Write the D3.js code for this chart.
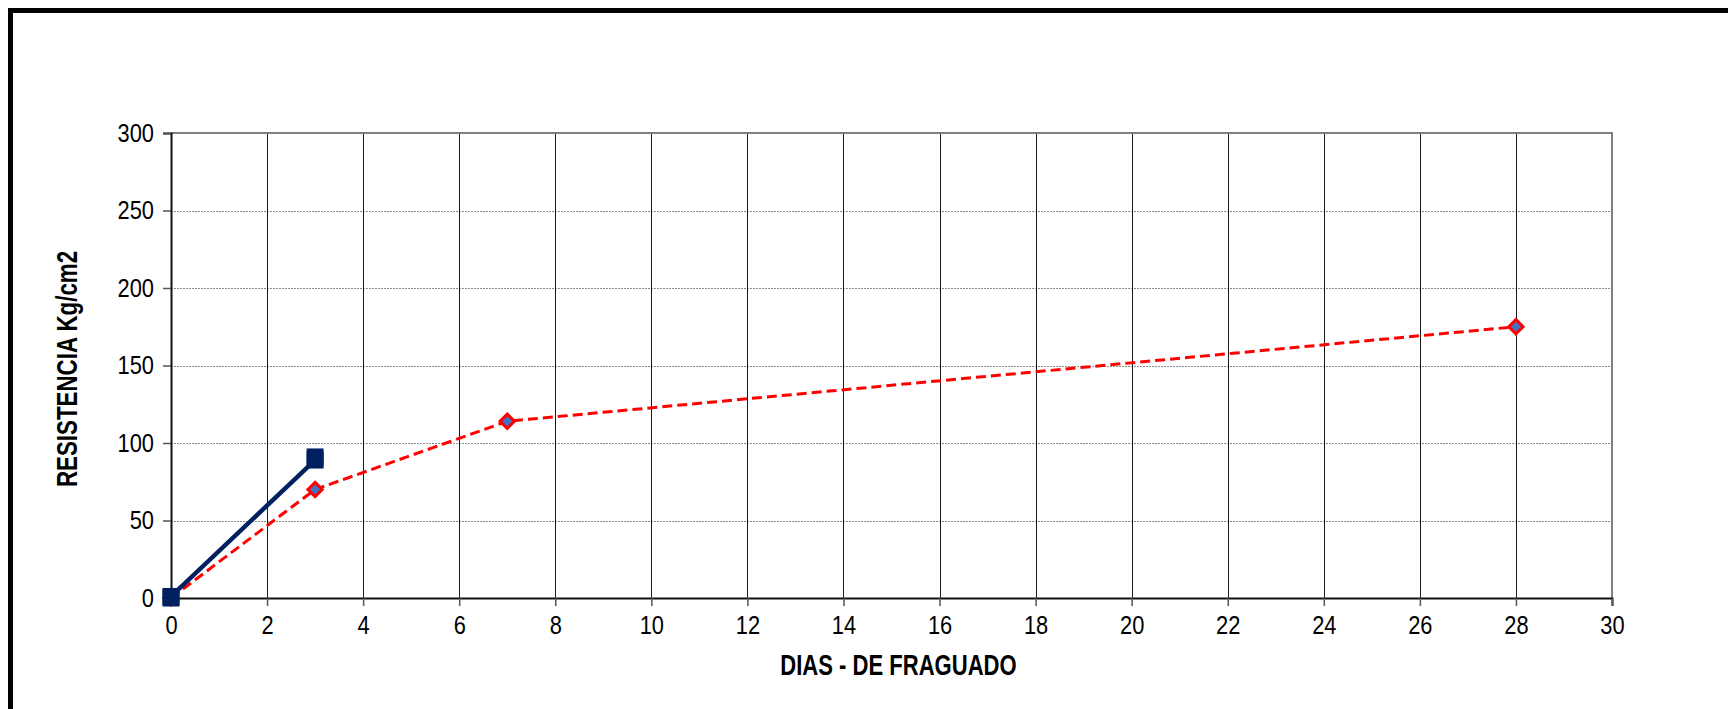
<!DOCTYPE html>
<html>
  <head>
    <meta charset="utf-8">
    <script src="https://cdn.jsdelivr.net/npm/d3@7/dist/d3.min.js"></script>
    <style>
      body { margin: 0; background: white; }
      svg { display: block; }
      text { font-family: 'Liberation Sans', Arial, sans-serif; }
    </style>
  </head>
  <body>
    <script>
      // data
      const xTicks = [0, 2, 4, 6, 8, 10, 12, 14, 16, 18, 20, 22, 24, 26, 28, 30]
      const yTicks = [0, 50, 100, 150, 200, 250, 300]

      const muestraDias = [0, 0, 3, 3]
      const muestraRes = [0, 1, 89, 91]

      const patronDias = [0, 3, 7, 28]
      const patronRes = [0, 70, 114, 175]

      const W = 1728, H = 709
      const m = {left: 171, right: 1612, top: 133, bottom: 598}

      const svg = d3.select('body').append('svg')
        .attr('width', W).attr('height', H)

      // squeeze text sideways, the original uses a narrow face
      function narrow(sel, k) {
        sel.each(function() {
          const w = this.getComputedTextLength()
          d3.select(this)
            .attr('textLength', w * k)
            .attr('lengthAdjust', 'spacingAndGlyphs')
        })
      }

      // outer frame, runs off the right and bottom edge
      svg.append('rect')
        .attr('x', 10.5).attr('y', 10.5)
        .attr('width', W + 20).attr('height', H + 20)
        .attr('fill', 'white')
        .attr('stroke', 'black').attr('stroke-width', 5)

      const x = d3.scaleLinear().domain([0, 30]).range([m.left, m.right])
      const y = d3.scaleLinear().domain([0, 300]).range([m.bottom, m.top])

      // horizontal grid, dotted
      svg.append('g')
        .selectAll('line')
        .data(yTicks.slice(1, -1))
        .join('line')
        .attr('x1', m.left).attr('x2', m.right)
        .attr('y1', d => Math.round(y(d)) + 0.5).attr('y2', d => Math.round(y(d)) + 0.5)
        .attr('stroke', '#8c8c8c').attr('stroke-width', 1)
        .attr('stroke-dasharray', '2,1')

      // vertical grid, solid
      svg.append('g')
        .selectAll('line')
        .data(xTicks.slice(1, -1))
        .join('line')
        .attr('x1', d => Math.round(x(d)) + 0.5).attr('x2', d => Math.round(x(d)) + 0.5)
        .attr('y1', m.top).attr('y2', m.bottom)
        .attr('stroke', '#1a1a1a').attr('stroke-width', 1)

      // plot frame top / right
      svg.append('path')
        .attr('d', `M${m.left},${m.top}H${m.right}V${m.bottom}`)
        .attr('fill', 'none').attr('stroke', '#808080').attr('stroke-width', 2)

      const xAxis = svg.append('g')
        .attr('transform', `translate(0,${m.bottom})`)
        .call(d3.axisBottom(x).tickValues(xTicks).tickSize(8).tickPadding(8))
      const yAxis = svg.append('g')
        .attr('transform', `translate(${m.left},0)`)
        .call(d3.axisLeft(y).tickValues(yTicks).tickSize(8).tickPadding(9))

      ;[xAxis, yAxis].forEach(g => {
        g.select('.domain').attr('stroke', '#111').attr('stroke-width', 2)
        g.selectAll('.tick line').attr('stroke', '#555').attr('stroke-width', 1.5)
        g.selectAll('.tick text')
          .attr('font-family', null)
          .attr('font-size', 26)
          .attr('fill', 'black')
          .call(narrow, 0.84)
      })
      xAxis.selectAll('.tick text').attr('dy', '0.78em')

      // axis titles
      svg.append('text')
        .attr('x', (m.left + m.right) / 2 + 7).attr('y', 675)
        .attr('text-anchor', 'middle')
        .attr('font-size', 29).attr('font-weight', 'bold')
        .text('DIAS - DE FRAGUADO')
        .call(narrow, 0.76)

      svg.append('text')
        .attr('transform', `translate(77,${369}) rotate(-90)`)
        .attr('text-anchor', 'middle')
        .attr('font-size', 29).attr('font-weight', 'bold')
        .text('RESISTENCIA Kg/cm2')
        .call(narrow, 0.77)

      const line = d3.line().x(d => x(d[0])).y(d => y(d[1]))

      // patron curve, red dashed with diamonds
      const patron = patronDias.map((d, i) => [d, patronRes[i]])
      svg.append('path')
        .attr('d', line(patron))
        .attr('fill', 'none')
        .attr('stroke', '#ff0000').attr('stroke-width', 3)
        .attr('stroke-dasharray', '10,5')

      svg.append('g')
        .selectAll('path')
        .data(patron)
        .join('path')
        .attr('transform', d => `translate(${x(d[0])},${y(d[1])})`)
        .attr('d', d3.symbol(d3.symbolDiamond2, 130))
        .attr('fill', '#4472c4')
        .attr('stroke', '#ff0000').attr('stroke-width', 3)

      // sample curve, navy solid with squares
      const muestra = muestraDias.map((d, i) => [d, muestraRes[i]])
      svg.append('path')
        .attr('d', line(muestra))
        .attr('fill', 'none')
        .attr('stroke', '#002060').attr('stroke-width', 4.5)

      svg.append('g')
        .selectAll('rect')
        .data(muestra)
        .join('rect')
        .attr('x', d => x(d[0]) - 7.5).attr('y', d => y(d[1]) - 7.5)
        .attr('width', 15).attr('height', 15)
        .attr('fill', '#002060')
        .attr('stroke', '#002060').attr('stroke-width', 2)
    </script>
  </body>
</html>
